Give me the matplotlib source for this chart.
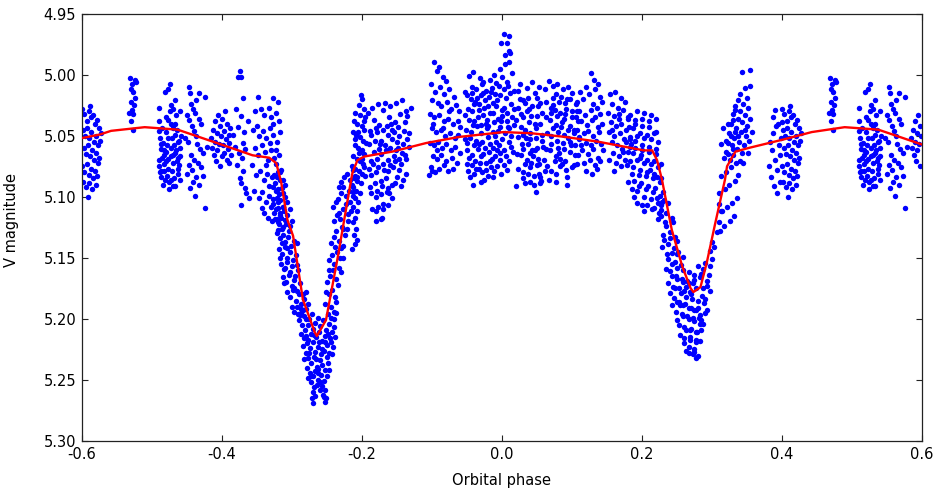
import numpy as np
import matplotlib
matplotlib.use('Agg')
import matplotlib.pyplot as plt

plt.rcParams['font.family'] = ['DejaVu Sans']
plt.rcParams['axes.unicode_minus'] = False

# V-band photometry folded on the orbital period.
# Each run: flat pairs of (phase in units of 0.001, V - 5.000 in mmag)
run_a = [-490,27, -489,38, -488,52, -487,61, -489,70, -490,75, -486,84, -488,80, -485,44, -484,56,
         -483,66, -482,73, -484,90, -481,14, -480,35, -479,47, -478,58, -480,63, -477,69, -476,77,
         -478,83, -475,88, -474,8, -473,25, -472,40, -471,52, -473,60, -470,66, -469,72, -471,79,
         -468,85, -467,91, -466,21, -465,33, -464,45, -463,55, -465,62, -462,68, -461,74, -463,81,
         -460,86, -459,30, -458,50, -476,12, -474,30, -470,44, -468,58, -466,64, -464,71, -462,77,
         -460,60, -467,49, -472,67, -479,71, -482,62, -485,68, -487,79, -483,79, -477,52, -473,86,
         -469,91, -475,94, -481,86, -486,57, -489,46, -476,37, -470,28, -466,40, -461,54, -459,67]
run_b = [-446,10, -445,15, -432,15, -424,18, -436,21, -444,24, -441,28, -438,31, -450,33, -447,37,
         -433,36, -429,40, -443,42, -440,46, -437,50, -452,52, -448,55, -435,57, -431,61, -427,64,
         -444,66, -439,70, -446,74, -442,78, -434,72, -430,76, -450,81, -436,84, -441,88, -432,90,
         -445,93, -438,99, -427,83, -424,109, -421,59]
run_c = [-415,52, -414,60, -412,45, -411,66, -410,38, -409,55, -408,71, -407,48, -406,62, -405,33,
         -404,57, -403,75, -402,42, -401,50, -400,67, -399,36, -398,58, -397,46, -396,64, -395,30,
         -394,53, -393,70, -392,40, -391,61, -390,49, -389,56, -388,44, -387,66]
run_d = [-374,-3, -377,2, -372,2, -370,19, -373,34, -376,43, -370,56, -389,72, -363,38, -375,64,
         -371,68, -378,74, -369,79, -374,85, -372,89, -366,93, -373,107, -381,59, -384,49, -367,61,
         -379,28, -365,97, -361,101, -368,47]
run_e = [-348,18, -327,19, -320,22, -352,30, -344,28, -339,33, -333,27, -329,35, -323,31, -318,38,
         -355,45, -350,42, -346,50, -341,46, -336,52, -331,44, -326,49, -321,55, -317,47, -353,60,
         -348,66, -343,58, -338,63, -334,70, -330,62, -325,68, -322,73, -318,66, -315,78, -357,74,
         -351,82, -345,79, -340,86, -335,81, -332,91, -328,84, -324,89, -320,94, -316,86, -313,97,
         -354,95, -347,101, -342,96, -337,104, -333,99, -329,108, -326,102, -322,110, -319,104, -316,115,
         -312,108, -339,113, -334,117, -328,120, -325,113, -321,118, -318,122, -314,126, -310,119, -343,109,
         -336,74, -331,56, -327,40, -323,62, -319,80]
run_f = [-325,82, -321,84, -316,80, -312,86, -309,90, -327,92, -323,95, -318,98, -314,93, -310,100,
         -306,104, -326,106, -320,109, -316,103, -311,112, -307,115, -303,110, -324,118, -319,121, -315,117,
         -312,125, -308,122, -304,128, -300,120, -321,130, -317,134, -313,131, -309,137, -305,133, -301,140,
         -297,136, -318,143, -314,147, -310,141, -306,150, -302,145, -298,152, -294,148, -315,155, -311,159,
         -307,153, -303,162, -299,157, -295,165, -291,160, -312,166, -308,170, -304,164, -300,173, -296,168,
         -292,177, -288,171, -284,180, -306,178, -302,182, -298,176, -294,185, -290,180, -286,188, -282,184,
         -279,178, -300,190, -296,194, -292,190, -288,197, -284,193, -280,200, -277,188, -319,127, -314,138,
         -310,158, -306,142, -302,124, -297,175, -293,156, -292,138, -321,101, -317,113, -313,108, -316,150,
         -311,171, -291,196, -286,192]
run_g = [-287,195, -283,198, -279,192, -275,200, -271,196, -267,203, -263,199, -259,206, -255,201, -251,209,
         -247,204, -243,211, -239,200, -236,195, -285,205, -281,209, -277,205, -273,212, -269,208, -265,215,
         -261,211, -257,218, -253,214, -249,221, -245,216, -241,223, -282,216, -278,220, -274,224, -270,219,
         -266,227, -262,223, -258,229, -254,226, -250,231, -246,228, -280,228, -276,232, -272,236, -268,231,
         -264,239, -260,234, -256,238, -252,242, -248,236, -278,240, -274,244, -270,247, -266,243, -262,250,
         -258,246, -254,251, -250,247, -272,252, -268,256, -264,254, -256,255, -252,258, -270,260, -266,263,
         -255,262, -251,265, -270,269, -253,268, -271,265, -254,264, -272,247, -260,258, -284,222, -280,214,
         -276,217, -268,213, -261,219, -257,225, -252,219, -248,212, -244,219, -240,207, -242,229, -246,242,
         -277,248, -282,233, -263,244, -259,252, -265,233, -262,241, -275,228, -289,201, -238,215, -286,212,
         -244,199]
run_h = [-248,196, -244,190, -240,194, -236,186, -252,188, -246,180, -242,176, -238,182, -234,172, -249,170,
         -245,165, -241,160, -237,167, -233,158, -229,162, -247,152, -243,148, -239,155, -235,145, -231,150,
         -227,140, -244,138, -240,133, -236,128, -232,136, -228,125, -224,131, -239,120, -235,115, -231,118,
         -227,110, -223,106, -220,114, -234,102, -230,97, -226,92, -222,99, -218,95, -214,90, -229,88,
         -225,84, -221,81, -217,86, -213,78, -210,83, -238,141, -233,113, -227,126, -251,178, -236,104,
         -221,126, -216,104, -246,160, -230,142, -226,150, -219,120, -241,108, -233,92, -212,96]
run_i = [-201,17, -199,20, -204,25, -197,28, -209,31, -203,33, -195,35, -211,38, -206,40, -200,42,
         -196,45, -213,47, -208,49, -202,51, -198,54, -194,56, -210,58, -205,60, -200,62, -196,65,
         -212,67, -207,69, -203,71, -198,73, -214,75, -209,77, -204,79, -199,81, -195,83, -211,85,
         -206,87, -201,89, -213,92, -208,95, -203,97, -210,101, -205,104, -212,108, -207,112, -209,117,
         -213,121, -208,126, -211,131, -206,135, -210,139, -214,143, -197,38, -205,47, -210,53, -199,69,
         -204,64, -207,84, -197,76, -212,99, -215,112]
run_j = [-191,31, -185,27, -183,37, -177,24, -175,41, -169,29, -167,23, -161,35, -159,26, -153,39,
         -151,23, -145,32, -143,21, -137,30, -135,34, -130,27, -188,46, -186,49, -180,44, -178,47,
         -172,54, -170,45, -164,42, -162,49, -156,45, -154,47, -148,43, -146,50, -140,46, -138,39,
         -132,48, -189,57, -183,63, -181,54, -175,61, -173,65, -167,58, -165,62, -159,60, -157,53,
         -151,62, -149,55, -143,64, -141,57, -135,53, -133,59, -186,71, -184,73, -178,69, -176,76,
         -170,73, -168,78, -162,70, -160,74, -154,67, -152,71, -146,69, -144,73, -138,66, -136,69,
         -187,82, -181,89, -179,80, -173,87, -171,91, -165,85, -163,79, -157,90, -155,76, -149,84,
         -147,78, -141,86, -186,97, -180,100, -178,95, -172,98, -170,106, -164,96, -162,93, -156,101,
         -152,89, -185,110, -179,112, -177,108, -171,117, -169,110, -163,107, -180,120, -172,118, -188,92,
         -190,77, -161,97, -144,91, -136,81, -174,57, -158,40, -148,60]
run_l = [-97,-10, -90,-6, -93,-3, -84,2, -101,8, -88,10, -79,5, -95,14, -82,16, -75,12,
         -68,18, -99,21, -91,23, -86,26, -78,22, -72,28, -65,25, -61,30, -103,32, -96,35,
         -89,33, -83,38, -76,36, -70,40, -63,38, -59,43, -100,44, -94,47, -87,45, -81,50,
         -74,48, -67,52, -62,49, -102,56, -97,58, -91,55, -85,60, -79,57, -73,62, -66,59,
         -60,64, -98,67, -92,69, -86,66, -80,71, -71,68, -64,72, -101,76, -95,80, -89,77,
         -83,74, -104,82, -99,79, -77,79, -69,77, -93,62, -84,44, -75,30, -98,40]
run_m = [3,-33, 11,-32, -1,-26, 8,-26, 10,-19, 5,-16, 12,-18, 5,-9, 11,-10, -3,-5,
         -47,1, -41,-2, -31,3, -26,6, -17,4, -11,0, -4,9, 1,2, 7,6, 15,-1,
         -43,10, -37,12, -28,8, -22,13, -14,11, -8,7, 3,12, 9,9, 17,13, -52,14,
         -50,17, -44,20, -42,15, -35,19, -33,24, -30,17, -24,21, -20,26, -18,18, -12,23,
         -10,16, -6,21, -2,17, 4,27, 6,19, 12,15, 14,24, -48,28, -40,24, -32,29,
         -25,27, -16,31, -8,26, 0,29, 8,31, 18,28, -38,22, -27,15, -15,14, -53,33,
         -46,37, -43,30, -39,38, -34,35, -29,41, -27,33, -21,37, -19,42, -13,31, -11,39,
         -5,36, -3,43, 1,34, 7,38, 9,43, 15,35, 17,41, -51,45, -44,47, -35,42,
         -29,48, -21,44, -13,47, -5,46, 5,48, 11,44, -41,41, -23,40, -9,50, -1,38,
         13,50, -52,53, -49,56, -45,52, -40,58, -36,54, -32,57, -28,55, -24,60, -20,51,
         -16,57, -12,60, -8,55, -4,58, 0,53, 4,62, 10,55, 14,59, -50,62, -42,66,
         -34,61, -26,65, -18,63, -10,67, -2,64, 6,67, 16,63, -46,68, -38,71, -30,67,
         -14,69, -6,62, -50,73, -43,74, -33,77, -23,72, -15,76, -7,75, 3,74, 11,71,
         -48,79, -39,81, -28,80, -19,83, -11,79, -25,86, -23,78, -1,81, -36,77, -45,84,
         -31,72, -17,71, -3,70, 7,78, -13,84, -41,90, -30,88]
run_n = [23,13, 26,8, 30,21, 36,11, 38,19, 43,6, 47,15, 53,10, 55,23, 24,27,
         28,32, 34,23, 36,30, 42,34, 44,26, 50,34, 52,26, 58,31, 21,37, 27,43,
         31,35, 33,45, 39,39, 41,48, 47,40, 49,44, 55,40, 57,49, 23,51, 29,57,
         31,49, 37,57, 41,53, 43,62, 49,52, 51,60, 57,54, 22,65, 28,66, 30,61,
         36,70, 40,64, 42,72, 48,62, 52,69, 54,73, 24,77, 30,80, 34,73, 38,81,
         40,76, 46,83, 50,74, 54,81, 56,87, 21,91, 33,89, 46,90, 49,96, 55,89,
         31,85, 41,88, 60,70, 59,59, 45,67, 35,52, 26,20, 50,19, 39,28,
         68,5, 62,12, 73,9, 77,16, 79,8, 85,18, 87,12, 93,20, 95,10, 101,15,
         64,22, 70,27, 74,19, 76,29, 82,22, 84,31, 90,23, 92,28, 98,20, 100,30,
         106,24, 63,35, 69,37, 71,31, 77,41, 79,34, 85,43, 89,36, 91,32, 97,42,
         101,35, 103,45, 109,38, 65,48, 71,50, 73,44, 79,54, 81,47, 87,56, 89,49,
         95,45, 97,55, 103,48, 105,58, 111,51, 63,61, 69,62, 71,57, 77,67, 81,60,
         83,69, 89,61, 91,71, 97,63, 99,58, 105,66, 107,73, 65,75, 70,79, 76,71,
         78,81, 84,75, 86,73, 92,78, 94,84, 100,76, 62,79, 67,86, 55,84, 78,88,
         93,90, 103,74, 74,25, 86,39, 95,52, 82,64, 108,30]
run_o = [127,-1, 132,4, 120,10, 138,8, 112,14, 125,16, 141,18, 108,22, 116,20, 131,24,
         136,27, 143,22, 110,30, 119,33, 127,29, 134,35, 140,32, 113,38, 122,41, 129,37,
         137,43, 144,40, 107,45, 117,48, 124,46, 131,50, 139,47, 111,53, 120,56, 127,58,
         135,54, 142,57, 115,62, 123,65, 130,61, 138,68, 109,66, 118,72, 126,70, 133,74,
         141,71, 121,79, 129,81, 136,77, 114,58, 106,35, 145,62, 133,12]
run_p = [155,16, 162,14, 170,19, 176,22, 158,24, 166,27, 173,29, 152,31, 160,34, 168,32,
         180,36, 156,39, 164,42, 171,40, 178,45, 153,47, 161,50, 169,48, 175,53, 183,51,
         157,55, 165,58, 172,61, 159,64, 167,67, 174,63, 154,70, 163,72, 170,75, 161,79,
         176,70, 184,59, 158,45, 168,36]
run_q = [181,35, 184,33, 191,37, 194,30, 201,36, 204,31, 211,38, 214,33, 221,36, 182,43,
         188,44, 191,40, 198,48, 201,42, 208,49, 211,43, 218,48, 221,47, 183,53, 190,54,
         193,50, 200,58, 203,52, 210,59, 213,53, 220,61, 223,55, 180,63, 187,64, 190,60,
         197,68, 200,62, 207,70, 210,63, 217,71, 220,65, 227,73, 184,71, 187,76, 194,70,
         197,78, 204,72, 207,80, 214,73, 217,81, 224,76, 227,85, 186,81, 189,87, 196,82,
         199,89, 206,83, 209,91, 216,85, 219,93, 226,88, 231,96, 186,94, 193,95, 196,91,
         203,100, 206,94, 213,102, 216,96, 223,105, 226,99, 193,105, 200,107, 208,107, 215,110,
         218,109, 225,113, 228,111, 232,103, 178,55, 179,74, 181,88, 189,100, 204,112, 199,66,
         212,78, 185,57, 222,84]
run_r = [222,101, 227,107, 229,104, 235,113, 237,105, 243,117, 228,116, 233,121, 235,124, 241,129,
         245,121, 224,118, 231,131, 247,133, 232,135, 238,139, 240,134, 246,142, 250,136, 252,145,
         236,147, 238,151, 244,146, 248,153, 250,147, 256,156, 229,141, 259,149, 235,159, 241,161,
         243,155, 249,165, 251,158, 257,167, 259,160, 265,169, 267,162, 273,171, 275,164, 281,157,
         285,163, 237,171, 243,165, 245,174, 251,167, 253,175, 259,170, 261,177, 267,171, 269,178,
         275,168, 277,175, 283,166, 287,159, 291,154, 240,179, 246,183, 248,175, 254,186, 256,179,
         262,188, 264,182, 270,191, 272,184, 278,193, 280,185, 286,181, 288,175, 294,169, 243,189,
         249,194, 251,186, 257,196, 259,189, 265,198, 267,191, 273,199, 275,193, 281,191, 283,197,
         289,187, 291,184, 297,177, 251,201, 253,205, 259,198, 261,207, 267,200, 269,209, 275,202,
         277,211, 283,204, 285,201, 291,195, 293,193, 255,213, 261,216, 263,209, 269,215, 271,208,
         277,217, 279,211, 285,209, 287,204, 261,220, 267,223, 269,217, 275,225, 277,219, 283,218,
         267,228, 273,229, 275,227, 281,230, 278,232, 264,226, 296,164, 301,151, 304,141, 297,157,
         307,129, 301,137, 310,121, 313,112, 293,173, 298,144, 271,180, 263,174, 282,199, 255,189]
run_s = [312,128, 318,124, 326,120, 332,116, 315,112, 322,108, 329,105, 336,101, 311,97, 319,94,
         325,90, 333,87, 314,83, 321,80, 328,76, 335,72, 317,68, 324,65, 330,61, 313,57,
         320,54, 327,50, 334,47, 316,44, 323,40, 331,37, 310,106, 338,82]
run_t = [343,-2, 355,-4, 347,11, 355,9, 340,16, 350,19, 337,21, 345,24, 352,27, 333,26,
         341,30, 348,33, 355,36, 330,32, 338,36, 344,39, 351,42, 327,40, 335,44, 342,47,
         349,50, 325,48, 332,52, 339,55, 346,58, 353,54, 329,58, 336,61, 343,64, 324,56,
         331,66, 357,47, 321,63, 334,29, 348,45, 340,71, 326,70, 345,72, 352,64, 337,50]
run_u = [383,55, 386,62, 388,48, 390,70, 392,42, 394,78, 396,58, 398,66, 385,84, 389,91,
         393,97, 397,88, 382,75, 399,52, 387,35, 391,29, 395,40, 401,28, 404,32, 407,38,
         410,30, 413,35, 416,33, 419,40, 422,37, 425,44, 402,45, 405,50, 408,44, 411,52,
         414,47, 417,55, 420,50, 423,58, 426,54, 403,60, 406,65, 409,58, 412,67, 415,62,
         418,70, 421,64, 424,72, 401,75, 404,80, 407,73, 410,82, 413,77, 416,85, 419,79,
         422,83, 425,68, 402,88, 406,92, 411,89, 415,94, 420,90, 400,39, 427,48, 409,100,
         412,26]
run_v = [469,3, 476,4, 472,8, 478,6, 473,14, 476,19, 470,22, 472,29, 468,31, 474,32,
         471,38, 473,45, 475,25, 470,12]

# fitted light curve
model_phase = [-0.600, -0.574, -0.558, -0.510, -0.463, -0.399, -0.356, -0.332, -0.322, -0.315,
               -0.306, -0.298, -0.284, -0.267, -0.264, -0.251, -0.234, -0.225, -0.215, -0.213,
               -0.206, -0.196, -0.156, -0.108, -0.061, 0.003, 0.043, 0.091, 0.139, 0.203,
               0.215, 0.222, 0.229, 0.243, 0.258, 0.270, 0.274, 0.284, 0.293, 0.305,
               0.319, 0.322, 0.334, 0.353, 0.403, 0.443, 0.490, 0.538, 0.602]
model_vmag = [5.052, 5.049, 5.046, 5.043, 5.045, 5.0575, 5.066, 5.068, 5.0725, 5.088,
              5.119, 5.132, 5.184, 5.211, 5.214, 5.201, 5.149, 5.119, 5.086, 5.080,
              5.070, 5.067, 5.063, 5.056, 5.051, 5.047, 5.048, 5.051, 5.055, 5.062,
              5.062, 5.070, 5.086, 5.127, 5.157, 5.175, 5.178, 5.174, 5.154, 5.122,
              5.086, 5.075, 5.063, 5.060, 5.053, 5.047, 5.043, 5.045, 5.0575]

runs = [run_a, run_b, run_c, run_d, run_e, run_f, run_g, run_h, run_i, run_j, run_l,
        run_m, run_n, run_o, run_p, run_q, run_r, run_s, run_t, run_u, run_v]
pts = np.concatenate([np.array(r, dtype=float).reshape(-1, 2) for r in runs])
phase = pts[:, 0] / 1000.0
vmag = 5.0 + pts[:, 1] / 1000.0

# repeat the ends of the cycle so the plot covers -0.6 .. 0.6
lo = phase < -0.4
hi = phase > 0.4
ph_all = np.concatenate([phase, phase[lo] + 1.0, phase[hi] - 1.0])
mag_all = np.concatenate([vmag, vmag[lo], vmag[hi]])

fig = plt.figure(figsize=(9.42, 4.9), dpi=100)
ax = fig.add_axes([0.0867, 0.1, 0.8917, 0.8722])

ax.plot(ph_all, mag_all, 'o', color='#0000ff', ms=3.9, mew=0, zorder=2)
ax.plot(model_phase, model_vmag, '-', color='#ff0000', lw=1.7, zorder=3)

ax.set_xlim(-0.6, 0.6)
ax.set_ylim(5.30, 4.95)
ax.set_xticks(np.arange(-0.6, 0.61, 0.2))
ax.set_xticklabels(['-0.6', '-0.4', '-0.2', '0.0', '0.2', '0.4', '0.6'])
ax.set_yticks(np.arange(4.95, 5.301, 0.05))
ax.set_yticklabels(['%.2f' % v for v in np.arange(4.95, 5.301, 0.05)])
ax.tick_params(direction='in', length=4, width=0.8, top=True, right=True,
               labelsize=10.5, pad=4, colors='#222222', labelcolor='black')
for s in ax.spines.values():
    s.set_linewidth(0.9)
    s.set_color('#222222')

ax.set_xlabel('Orbital phase', fontsize=10.5)
ax.set_ylabel('V magnitude', fontsize=10.5)
ax.yaxis.set_label_coords(-0.0746, 0.518)
ax.xaxis.set_label_coords(0.5, -0.075)

fig.savefig('out.png', dpi=100)
